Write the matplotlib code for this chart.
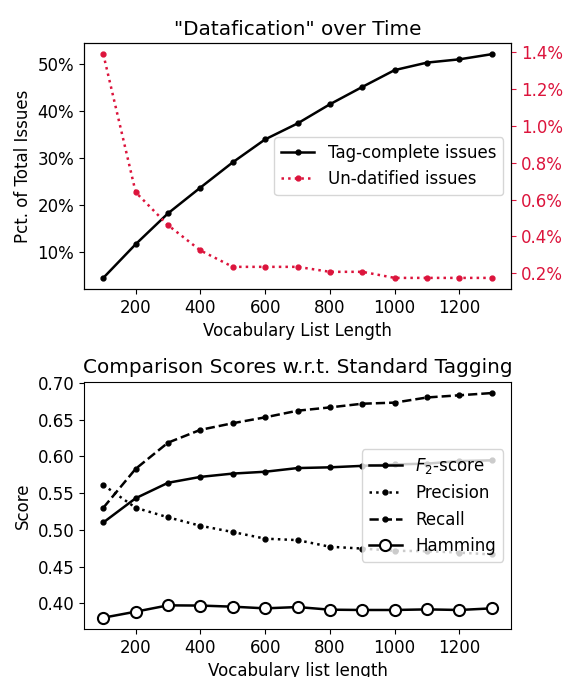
import matplotlib
matplotlib.use("Agg")
import matplotlib.pyplot as plt
from matplotlib.ticker import FuncFormatter

# vocabulary list lengths
vocab_len = [100, 200, 300, 400, 500, 600, 700, 800, 900, 1000, 1100, 1200, 1300]

# top panel (percent of total issues)
tag_complete = [4.4, 11.6, 18.2, 23.7, 29.1, 34.0, 37.4, 41.5, 45.2, 48.8, 50.4, 51.1, 52.2]
undatified = [1.39, 0.64, 0.461, 0.324, 0.235, 0.235, 0.235, 0.208, 0.208, 0.175, 0.175, 0.175, 0.175]

# bottom panel (scores)
f2_score = [0.510, 0.543, 0.564, 0.572, 0.5765, 0.579, 0.584, 0.585, 0.587, 0.589, 0.590, 0.5935, 0.5945]
precision = [0.561, 0.530, 0.517, 0.5055, 0.497, 0.488, 0.486, 0.477, 0.4745, 0.4715, 0.471, 0.469, 0.4665]
recall = [0.530, 0.583, 0.6186, 0.636, 0.645, 0.653, 0.662, 0.6665, 0.6715, 0.673, 0.680, 0.683, 0.686]
hamming = [0.3805, 0.3887, 0.3973, 0.397, 0.3955, 0.3932, 0.395, 0.3914, 0.391, 0.391, 0.3918, 0.391, 0.3932]

red = "crimson"

# reference looks like a notebook export scaled up ~1.2x
plt.rcParams["font.size"] = 12
plt.rcParams["axes.titlesize"] = 14.4
plt.rcParams["lines.linewidth"] = 1.8
plt.rcParams["lines.markersize"] = 7

fig = plt.figure(figsize=(5.63, 6.77), dpi=100)

# --- top: datafication over time
ax1 = fig.add_axes([0.149, 0.573, 0.759, 0.3635])
ax2 = ax1.twinx()
l1, = ax1.plot(vocab_len, tag_complete, ".-", color="black", label="Tag-complete issues")
l2, = ax2.plot(vocab_len, undatified, ".:", color=red, label="Un-datified issues")
ax1.yaxis.set_major_formatter(FuncFormatter(lambda v, p: f"{v:.0f}%"))
ax2.yaxis.set_major_formatter(FuncFormatter(lambda v, p: f"{v:.1f}%"))
ax2.tick_params(axis="y", colors=red)
ax1.set_xlabel("Vocabulary List Length")
ax1.set_ylabel("Pct. of Total Issues")
ax1.set_title('"Datafication" over Time')
ax1.legend(handles=[l1, l2], loc="center right")

# --- bottom: comparison scores
ax3 = fig.add_axes([0.149, 0.071, 0.759, 0.365])
ax3.plot(vocab_len, f2_score, ".-", color="black", label="$F_2$-score")
ax3.plot(vocab_len, precision, ".:", color="black", label="Precision")
ax3.plot(vocab_len, recall, ".--", color="black", label="Recall")
ax3.plot(vocab_len, hamming, "o-", color="black", mfc="white", mec="black",
         markersize=8, mew=1.5, label="Hamming")
ax3.set_xlabel("Vocabulary list length")
ax3.set_ylabel("Score")
ax3.set_title("Comparison Scores w.r.t. Standard Tagging")
ax3.legend(loc="center right")

fig.savefig("out.png", dpi=100)
